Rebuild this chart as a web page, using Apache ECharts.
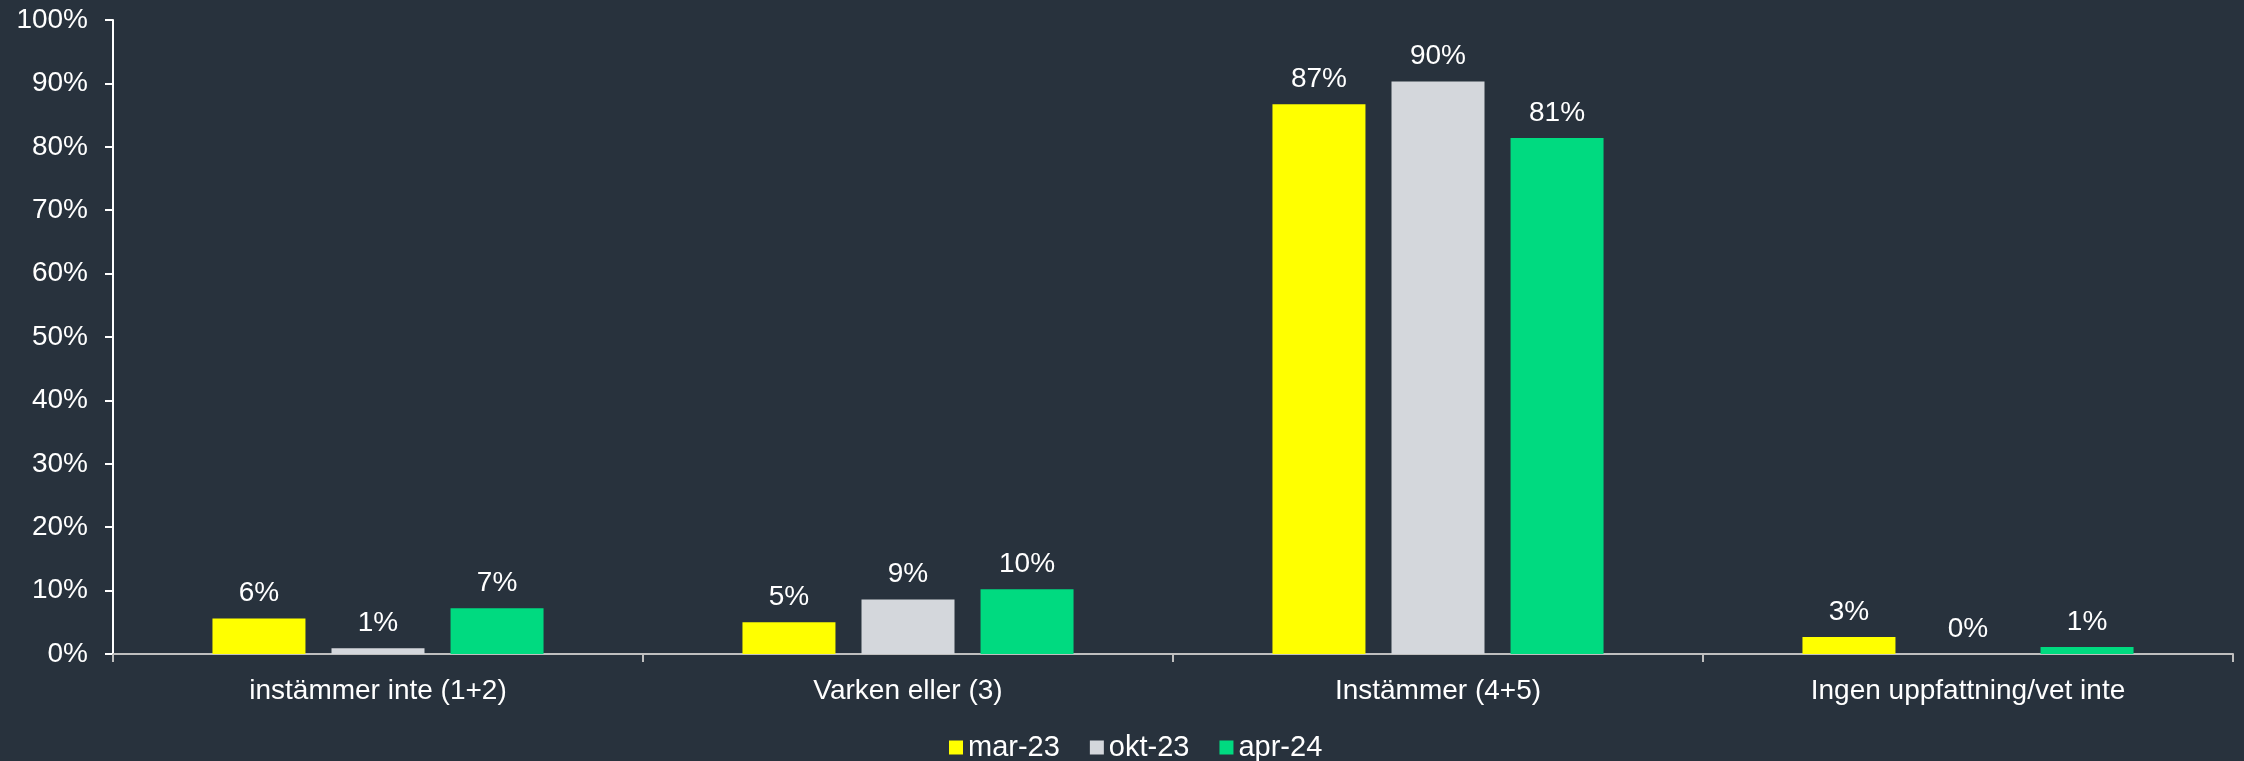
<!DOCTYPE html>
<html>
<head>
<meta charset="utf-8">
<script src="https://cdn.jsdelivr.net/npm/echarts@6/dist/echarts.min.js"></script>
<style>
  html, body { margin: 0; padding: 0; background: #28323d; }
  #main { width: 2244px; height: 761px; }
</style>
</head>
<body>
<div id="main"></div>
<script>
// kategorier och värden (andel i %)
var categories = ['instämmer inte (1+2)', 'Varken eller (3)', 'Instämmer (4+5)', 'Ingen uppfattning/vet inte'];
var seriesNames = ['mar-23', 'okt-23', 'apr-24'];
var mar23 = [5.6, 5.0, 86.7, 2.7];
var okt23 = [0.9, 8.6, 90.3, 0];
var apr24 = [7.2, 10.2, 81.4, 1.1];
var colors = ['#ffff00', '#d4d7dc', '#00da80'];

var textFont = 'Liberation Sans';
var fontSize = 28;

var myChart = echarts.init(document.getElementById('main'));

function makeSeries(name, data, color) {
    return {
        name: name,
        type: 'bar',
        data: data,
        barWidth: 93,
        barGap: '28%',
        itemStyle: { color: color },
        label: {
            show: true,
            position: 'top',
            distance: 11,
            color: '#ffffff',
            fontFamily: textFont,
            fontSize: fontSize,
            formatter: function (p) { return Math.round(p.value) + '%'; }
        }
    };
}

var option = {
    backgroundColor: '#28323d',
    animation: false,
    grid: { left: 113, right: 11, top: 20, bottom: 107 },
    legend: {
        data: seriesNames,
        top: 728,
        left: 944,
        itemWidth: 14,
        itemHeight: 14,
        itemGap: 30,
        icon: 'rect',
        textStyle: { color: '#ffffff', fontFamily: textFont, fontSize: 29 }
    },
    xAxis: {
        type: 'category',
        data: categories,
        axisLine: { lineStyle: { color: '#bfbfbf', width: 2 } },
        axisTick: { show: true, length: 8, lineStyle: { color: '#bfbfbf', width: 2 } },
        axisLabel: { color: '#ffffff', fontFamily: textFont, fontSize: fontSize, margin: 23 }
    },
    yAxis: {
        type: 'value',
        min: 0,
        max: 100,
        interval: 10,
        splitLine: { show: false },
        axisLine: { show: true, lineStyle: { color: '#ffffff', width: 2 } },
        axisTick: { show: true, length: 8, lineStyle: { color: '#ffffff', width: 2 } },
        axisLabel: {
            color: '#ffffff', fontFamily: textFont, fontSize: fontSize, margin: 25,
            formatter: '{value}%'
        }
    },
    series: [
        makeSeries(seriesNames[0], mar23, colors[0]),
        makeSeries(seriesNames[1], okt23, colors[1]),
        makeSeries(seriesNames[2], apr24, colors[2])
    ]
};

myChart.setOption(option);
</script>
</body>
</html>
